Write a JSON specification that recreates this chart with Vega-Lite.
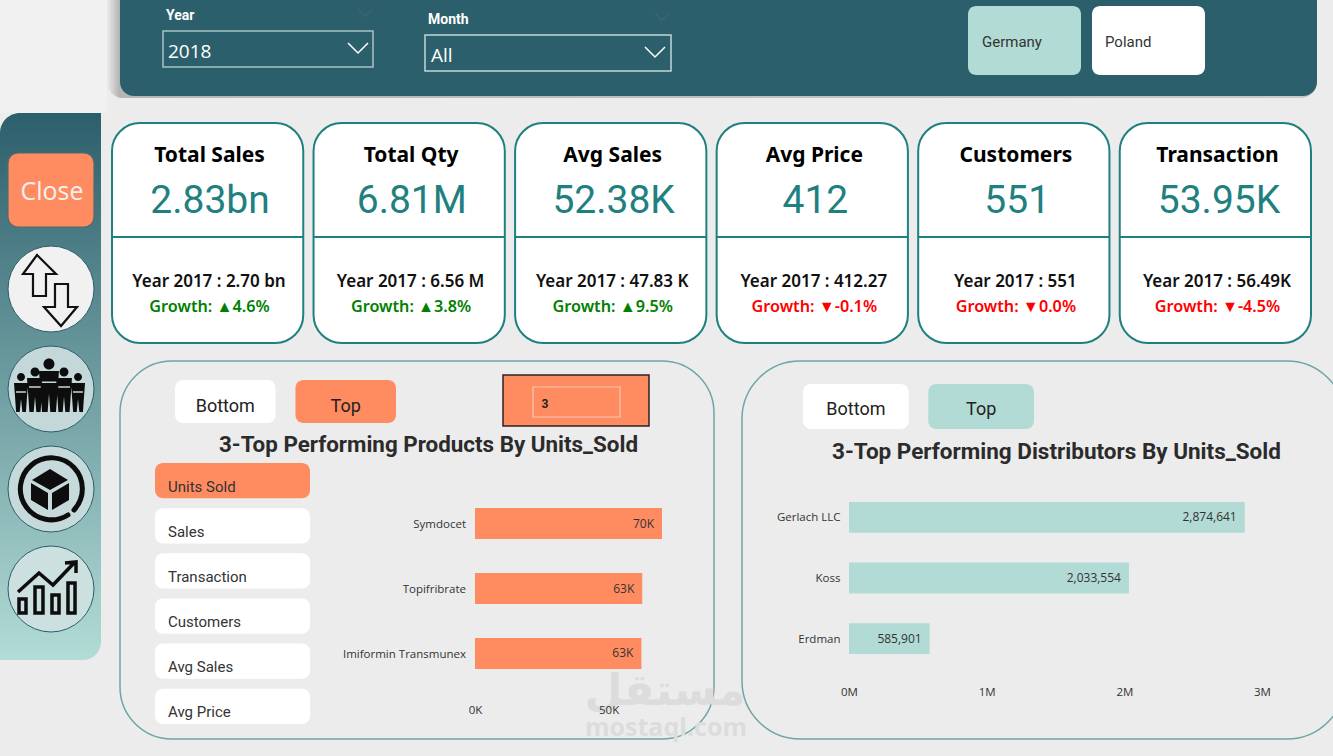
{
  "$schema": "https://vega.github.io/schema/vega-lite/v6.json",
  "width": 1333,
  "height": 756,
  "padding": 0,
  "autosize": {"type": "none"},
  "background": "#ececec",
  "config": {
    "view": {"stroke": null},
    "scale": {"pointPadding": 0},
    "axis": {"title": null, "grid": false, "domain": false, "ticks": false, "tickSize": 0, "labelColor": "#333333", "labelFontSize": 11.5, "labelFont": "Open Sans", "labelFlush": false},
    "text": {"baseline": "middle"}
  },
  "datasets": {
    "kpis": [
      {"title": "Total Sales", "value": "2.83bn", "prior": "Year 2017 : 2.70 bn", "growth": "Growth: ▲4.6%", "trend": "up"},
      {"title": "Total Qty", "value": "6.81M", "prior": "Year 2017 : 6.56 M", "growth": "Growth: ▲3.8%", "trend": "up"},
      {"title": "Avg Sales", "value": "52.38K", "prior": "Year 2017 : 47.83 K", "growth": "Growth: ▲9.5%", "trend": "up"},
      {"title": "Avg Price", "value": "412", "prior": "Year 2017 : 412.27", "growth": "Growth: ▼-0.1%", "trend": "down"},
      {"title": "Customers", "value": "551", "prior": "Year 2017 : 551", "growth": "Growth: ▼0.0%", "trend": "down"},
      {"title": "Transaction", "value": "53.95K", "prior": "Year 2017 : 56.49K", "growth": "Growth: ▼-4.5%", "trend": "down"}
    ],
    "slicers": [
      {"label": "Units Sold", "selected": "yes"},
      {"label": "Sales", "selected": "no"},
      {"label": "Transaction", "selected": "no"},
      {"label": "Customers", "selected": "no"},
      {"label": "Avg Sales", "selected": "no"},
      {"label": "Avg Price", "selected": "no"}
    ],
    "products": [
      {"name": "Symdocet", "units": 70000, "label": "70K"},
      {"name": "Topifribrate", "units": 62600, "label": "63K"},
      {"name": "Imiformin Transmunex", "units": 62300, "label": "63K"}
    ],
    "distributors": [
      {"name": "Gerlach LLC", "units": 2874641},
      {"name": "Koss", "units": 2033554},
      {"name": "Erdman", "units": 585901}
    ],
    "filters": [
      {"label": "Year", "choice": "2018"},
      {"label": "Month", "choice": "All"}
    ],
    "countries": [
      {"label": "Germany", "selected": "yes"},
      {"label": "Poland", "selected": "no"}
    ],
    "icons": [
      {"icon": "swap"},
      {"icon": "people"},
      {"icon": "box"},
      {"icon": "chart"}
    ],
    "toggleLeft": [
      {"label": "Bottom", "selected": "no"},
      {"label": "Top", "selected": "yes"}
    ],
    "toggleRight": [
      {"label": "Bottom", "selected": "no"},
      {"label": "Top", "selected": "yes"}
    ]
  },
  "resolve": {
    "scale": {"x": "independent", "y": "independent", "color": "independent"},
    "axis": {"x": "independent", "y": "independent"}
  },
  "layer": [
    {
      "data": {"values": [{"panel": "corner"}]},
      "mark": {"type": "rect", "fill": "#f1f1f1"},
      "encoding": {
        "x": {"field": "panel", "type": "nominal", "scale": {"type": "band", "range": [0, 107], "padding": 0}, "axis": null},
        "y": {"field": "panel", "type": "nominal", "scale": {"type": "band", "range": [0, 113], "padding": 0}, "axis": null}
      }
    },
    {
      "data": {"values": [{"panel": "shadow"}]},
      "mark": {"type": "rect", "cornerRadius": 16, "fill": {"gradient": "linear", "x1": 0, "y1": 0, "x2": 1, "y2": 0, "stops": [{"offset": 0, "color": "#ececec"}, {"offset": 0.01, "color": "#b5b5b5"}, {"offset": 1, "color": "#c8c8c8"}]}},
      "encoding": {
        "x": {"field": "panel", "type": "nominal", "scale": {"type": "band", "range": [107, 1317], "padding": 0}, "axis": null},
        "y": {"field": "panel", "type": "nominal", "scale": {"type": "band", "range": [-20, 98], "padding": 0}, "axis": null}
      }
    },
    {
      "data": {"values": [{"panel": "header"}]},
      "mark": {"type": "rect", "cornerRadius": 14, "fill": "#2c5f6c"},
      "encoding": {
        "x": {"field": "panel", "type": "nominal", "scale": {"type": "band", "range": [120, 1317], "padding": 0}, "axis": null},
        "y": {"field": "panel", "type": "nominal", "scale": {"type": "band", "range": [-20, 96], "padding": 0}, "axis": null}
      }
    },
    {
      "data": {"values": [{"box": "Year"}]},
      "mark": {"type": "rect", "filled": false, "stroke": "#a9c4c6", "strokeWidth": 1.5},
      "encoding": {
        "x": {"field": "box", "type": "nominal", "scale": {"type": "band", "range": [163, 373], "padding": 0}, "axis": null},
        "y": {"field": "box", "type": "nominal", "scale": {"type": "band", "range": [31, 67], "padding": 0}, "axis": null}
      }
    },
    {
      "data": {"values": [{"box": "Month"}]},
      "mark": {"type": "rect", "filled": false, "stroke": "#c3d7d8", "strokeWidth": 1.5},
      "encoding": {
        "x": {"field": "box", "type": "nominal", "scale": {"type": "band", "range": [425, 671], "padding": 0}, "axis": null},
        "y": {"field": "box", "type": "nominal", "scale": {"type": "band", "range": [35, 71], "padding": 0}, "axis": null}
      }
    },
    {
      "data": {"name": "filters"},
      "mark": {"type": "text", "align": "left", "font": "Roboto", "fontWeight": 700, "fontSize": 14, "color": "#ffffff"},
      "encoding": {
        "text": {"field": "label"},
        "x": {"field": "label", "type": "nominal", "sort": null, "scale": {"type": "point", "range": [166, 428]}, "axis": null},
        "y": {"field": "label", "type": "nominal", "sort": null, "scale": {"type": "point", "range": [16, 20]}, "axis": null}
      }
    },
    {
      "data": {"name": "filters"},
      "mark": {"type": "text", "align": "left", "font": "Open Sans", "fontSize": 19, "color": "#ffffff"},
      "encoding": {
        "text": {"field": "choice"},
        "x": {"field": "label", "type": "nominal", "sort": null, "scale": {"type": "point", "range": [168, 431]}, "axis": null},
        "y": {"field": "label", "type": "nominal", "sort": null, "scale": {"type": "point", "range": [52, 56]}, "axis": null}
      }
    },
    {
      "data": {"name": "filters"},
      "mark": {"type": "point", "shape": "M-1 -.5 L0 .5 L1 -.5", "size": 400, "filled": false, "color": "#ffffff", "strokeWidth": 1.5, "opacity": 1},
      "encoding": {
        "x": {"field": "label", "type": "nominal", "sort": null, "scale": {"type": "point", "range": [358, 655]}, "axis": null},
        "y": {"field": "label", "type": "nominal", "sort": null, "scale": {"type": "point", "range": [48, 52]}, "axis": null}
      }
    },
    {
      "data": {"name": "filters"},
      "mark": {"type": "point", "shape": "M-1 -.5 L0 .5 L1 -.5", "size": 196, "filled": false, "color": "#4b6a70", "strokeWidth": 1, "opacity": 1},
      "encoding": {
        "x": {"field": "label", "type": "nominal", "sort": null, "scale": {"type": "point", "range": [365, 662]}, "axis": null},
        "y": {"field": "label", "type": "nominal", "sort": null, "scale": {"type": "point", "range": [13, 17]}, "axis": null}
      }
    },
    {
      "data": {"name": "countries"},
      "mark": {"type": "rect", "cornerRadius": 8},
      "encoding": {
        "x": {"field": "label", "type": "nominal", "sort": null, "scale": {"type": "band", "range": [968, 1205], "paddingInner": 0.0887, "paddingOuter": 0}, "axis": null},
        "y": {"datum": "country", "type": "nominal", "scale": {"type": "band", "domain": ["country"], "range": [6, 75], "padding": 0}, "axis": null},
        "color": {"field": "selected", "type": "nominal", "scale": {"domain": ["yes", "no"], "range": ["#b2dbd5", "#ffffff"]}, "legend": null}
      }
    },
    {
      "data": {"name": "countries"},
      "mark": {"type": "text", "align": "left", "font": "Roboto", "fontSize": 15, "color": "#333333"},
      "encoding": {
        "text": {"field": "label"},
        "x": {"field": "label", "type": "nominal", "sort": null, "scale": {"type": "point", "range": [982, 1105]}, "axis": null},
        "y": {"datum": "country", "type": "nominal", "scale": {"type": "point", "domain": ["country"], "range": [42, 42]}, "axis": null}
      }
    },
    {
      "data": {"values": [{"panel": "sidebar"}]},
      "mark": {"type": "rect", "cornerRadiusTopLeft": 20, "cornerRadiusBottomRight": 18, "fill": {"gradient": "linear", "x1": 0, "y1": 0, "x2": 0, "y2": 1, "stops": [{"offset": 0, "color": "#2c5f6c"}, {"offset": 1, "color": "#b2dcd6"}]}},
      "encoding": {
        "x": {"field": "panel", "type": "nominal", "scale": {"type": "band", "range": [0, 101], "padding": 0}, "axis": null},
        "y": {"field": "panel", "type": "nominal", "scale": {"type": "band", "range": [113, 660], "padding": 0}, "axis": null}
      }
    },
    {
      "data": {"values": [{"label": "Close"}]},
      "encoding": {
        "x": {"field": "label", "type": "nominal", "scale": {"type": "band", "range": [8, 94], "padding": 0}, "axis": null},
        "y": {"field": "label", "type": "nominal", "scale": {"type": "band", "range": [153, 227], "padding": 0}, "axis": null}
      },
      "layer": [
        {"mark": {"type": "rect", "cornerRadius": 10, "fill": "#ff8c61", "stroke": "#55696c", "strokeWidth": 1.2}},
        {"mark": {"type": "text", "font": "Open Sans", "fontSize": 25, "dy": 2, "dx": 1, "color": "#f4f0f0"}, "encoding": {"text": {"field": "label"}}}
      ]
    },
    {
      "data": {"name": "icons"},
      "encoding": {
        "x": {"field": "icon", "type": "nominal", "sort": null, "scale": {"type": "point", "range": [51, 51]}, "axis": null},
        "y": {"field": "icon", "type": "nominal", "sort": null, "scale": {"type": "point", "domain": ["swap", "people", "box", "chart"], "range": [289, 589]}, "axis": null}
      },
      "layer": [
        {
          "mark": {"type": "point", "shape": "circle", "size": 7396, "filled": true, "opacity": 1, "stroke": "#2c5f6c", "strokeWidth": 1},
          "encoding": {"color": {"field": "icon", "type": "nominal", "scale": {"domain": ["swap", "people", "box", "chart"], "range": ["#f1f1f1", "#c4d8d9", "#c6dadb", "#cde0e0"]}, "legend": null}}
        },
        {
          "transform": [{"filter": "datum.icon == 'swap'"}],
          "mark": {"type": "point", "shape": "M-.368 -.895 L.132 -.395 L-.132 -.395 L-.132 .184 L-.474 .184 L-.474 -.395 L-.737 -.395Z M.105 -.132 L.447 -.132 L.447 .474 L.684 .474 L.263 .974 L-.184 .474 L.105 .474Z", "size": 5776, "filled": false, "color": "#111111", "strokeWidth": 2.2, "opacity": 1}
        },
        {
          "transform": [{"filter": "datum.icon == 'people'"}],
          "mark": {"type": "point", "shape": "M-.198 -.658 A.145 .145 0 1 1 .092 -.658 A.145 .145 0 1 1 -.198 -.658Z M-.316 -.474 L.21 -.474 L.131 .605 L-.018 .605 L-.053 .12 L-.088 .605 L-.237 .605Z M-.539 -.447 A.118 .118 0 1 1 -.303 -.447 A.118 .118 0 1 1 -.539 -.447Z M-.631 -.289 L-.211 -.289 L-.274 .605 L-.386 .605 L-.421 .203 L-.456 .605 L-.568 .605Z M.224 -.447 A.118 .118 0 1 1 .46 -.447 A.118 .118 0 1 1 .224 -.447Z M.132 -.289 L.552 -.289 L.489 .605 L.377 .605 L.342 .203 L.307 .605 L.195 .605Z M-.894 -.316 A.105 .105 0 1 1 -.684 -.316 A.105 .105 0 1 1 -.894 -.316Z M-.973 -.158 L-.605 -.158 L-.66 .605 L-.754 .605 L-.789 .262 L-.824 .605 L-.918 .605Z M.606 -.316 A.105 .105 0 1 1 .816 -.316 A.105 .105 0 1 1 .606 -.316Z M.527 -.158 L.895 -.158 L.84 .605 L.746 .605 L.711 .262 L.676 .605 L.582 .605Z", "size": 5776, "filled": true, "color": "#0d0d0d", "opacity": 1}
        },
        {
          "transform": [{"filter": "datum.icon == 'people'"}],
          "mark": {"type": "point", "shape": "M-.24 -.18 L.14 -.18 M-.58 -.05 L-.27 -.05 M.19 -.05 L.5 -.05 M-.92 .08 L-.66 .08 M.58 .08 L.84 .08", "size": 5776, "filled": false, "color": "#c4d8d9", "strokeWidth": 1.5, "opacity": 1}
        },
        {
          "transform": [{"filter": "datum.icon == 'box'"}],
          "mark": {"type": "point", "shape": "M-.026 -.526 L.447 -.237 L-.026 .026 L-.5 -.237Z M-.526 -.158 L-.079 .105 L-.079 .553 L-.526 .289Z M.474 -.158 L.026 .105 L.026 .553 L.474 .289Z", "size": 5776, "filled": true, "color": "#0d0d0d", "opacity": 1}
        },
        {
          "transform": [{"filter": "datum.icon == 'box'"}],
          "mark": {"type": "point", "shape": "M.605 .553 A.816 .816 0 1 0 .447 .684", "size": 5776, "filled": false, "color": "#0d0d0d", "strokeWidth": 5, "strokeCap": "round", "opacity": 1}
        },
        {
          "transform": [{"filter": "datum.icon == 'chart'"}],
          "mark": {"type": "point", "shape": "M-.842 .263 H-.658 V.632 H-.842Z M-.421 -.053 H-.211 V.632 H-.421Z M.026 .158 H.211 V.632 H.026Z M.447 -.158 H.632 V.632 H.447Z M-.868 .079 L-.316 -.421 L.053 -.105 L.632 -.711 M.368 -.684 L.658 -.711 L.658 -.421", "size": 5776, "filled": false, "color": "#0d0d0d", "strokeWidth": 3.5, "opacity": 1}
        }
      ]
    },
    {
      "data": {"name": "kpis"},
      "mark": {"type": "rect", "cornerRadius": 28, "fill": "#ffffff", "stroke": "#1f8080", "strokeWidth": 2},
      "encoding": {
        "x": {"field": "title", "type": "nominal", "sort": null, "scale": {"type": "band", "range": [112, 1311], "paddingInner": 0.051, "paddingOuter": 0}, "axis": null},
        "y": {"datum": "card", "type": "nominal", "scale": {"type": "band", "domain": ["card"], "range": [123, 343], "padding": 0}, "axis": null}
      }
    },
    {
      "data": {"name": "kpis"},
      "mark": {"type": "rect", "fill": "#1f8080"},
      "encoding": {
        "x": {"field": "title", "type": "nominal", "sort": null, "scale": {"type": "band", "range": [112, 1311], "paddingInner": 0.051, "paddingOuter": 0}, "axis": null},
        "y": {"datum": "divider", "type": "nominal", "scale": {"type": "band", "domain": ["divider"], "range": [236, 238], "padding": 0}, "axis": null}
      }
    },
    {
      "data": {"name": "kpis"},
      "mark": {"type": "text", "font": "Noto Sans", "fontWeight": 700, "fontSize": 21, "color": "#000000"},
      "encoding": {
        "text": {"field": "title"},
        "x": {"field": "title", "type": "nominal", "sort": null, "scale": {"type": "point", "range": [209.5, 1217.5]}, "axis": null},
        "y": {"datum": "title", "type": "nominal", "scale": {"type": "point", "domain": ["title"], "range": [155.5, 155.5]}, "axis": null}
      }
    },
    {
      "data": {"name": "kpis"},
      "mark": {"type": "text", "font": "Roboto", "fontSize": 39, "color": "#1f8080"},
      "encoding": {
        "text": {"field": "value"},
        "x": {"field": "title", "type": "nominal", "sort": null, "scale": {"type": "point", "range": [210, 1219]}, "axis": null},
        "y": {"datum": "value", "type": "nominal", "scale": {"type": "point", "domain": ["value"], "range": [201, 201]}, "axis": null}
      }
    },
    {
      "data": {"name": "kpis"},
      "mark": {"type": "text", "font": "Noto Sans", "fontWeight": 600, "fontSize": 17, "color": "#111111"},
      "encoding": {
        "text": {"field": "prior"},
        "x": {"field": "title", "type": "nominal", "sort": null, "scale": {"type": "point", "range": [209, 1217]}, "axis": null},
        "y": {"datum": "prior", "type": "nominal", "scale": {"type": "point", "domain": ["prior"], "range": [281.5, 281.5]}, "axis": null}
      }
    },
    {
      "data": {"name": "kpis"},
      "mark": {"type": "text", "font": "Noto Sans", "fontWeight": 600, "fontSize": 16.2},
      "encoding": {
        "text": {"field": "growth"},
        "x": {"field": "title", "type": "nominal", "sort": null, "scale": {"type": "point", "range": [209.5, 1217.5]}, "axis": null},
        "y": {"datum": "growth", "type": "nominal", "scale": {"type": "point", "domain": ["growth"], "range": [306.5, 306.5]}, "axis": null},
        "color": {"field": "trend", "type": "nominal", "scale": {"domain": ["up", "down"], "range": ["#008000", "#ff0000"]}, "legend": null}
      }
    },
    {
      "data": {"values": [{"panel": "products"}]},
      "mark": {"type": "rect", "cornerRadius": 52, "filled": false, "stroke": "#6fa5a5", "strokeWidth": 1.5},
      "encoding": {
        "x": {"field": "panel", "type": "nominal", "scale": {"type": "band", "range": [120, 714], "padding": 0}, "axis": null},
        "y": {"field": "panel", "type": "nominal", "scale": {"type": "band", "range": [361, 739], "padding": 0}, "axis": null}
      }
    },
    {
      "data": {"values": [{"panel": "distributors"}]},
      "mark": {"type": "rect", "cornerRadius": 58, "filled": false, "stroke": "#6fa5a5", "strokeWidth": 1.5},
      "encoding": {
        "x": {"field": "panel", "type": "nominal", "scale": {"type": "band", "range": [742, 1345], "padding": 0}, "axis": null},
        "y": {"field": "panel", "type": "nominal", "scale": {"type": "band", "range": [361, 739], "padding": 0}, "axis": null}
      }
    },
    {
      "data": {"values": [{"mark": "مستقل"}]},
      "mark": {"type": "text", "font": "DejaVu Sans", "fontWeight": 700, "fontSize": 44, "color": "#dcdcdc"},
      "encoding": {
        "text": {"field": "mark"},
        "x": {"field": "mark", "type": "nominal", "scale": {"type": "point", "range": [665, 665]}, "axis": null},
        "y": {"field": "mark", "type": "nominal", "scale": {"type": "point", "range": [692, 692]}, "axis": null}
      }
    },
    {
      "data": {"values": [{"mark": "mostaql.com"}]},
      "mark": {"type": "text", "font": "Open Sans", "fontWeight": 700, "fontSize": 25, "color": "#dcdcdc"},
      "encoding": {
        "text": {"field": "mark"},
        "x": {"field": "mark", "type": "nominal", "scale": {"type": "point", "range": [666, 666]}, "axis": null},
        "y": {"field": "mark", "type": "nominal", "scale": {"type": "point", "range": [728, 728]}, "axis": null}
      }
    },
    {
      "data": {"name": "toggleLeft"},
      "encoding": {
        "x": {"field": "label", "type": "nominal", "sort": null, "scale": {"type": "band", "range": [175, 396], "paddingInner": 0.165, "paddingOuter": 0}, "axis": null},
        "y": {"datum": "toggle", "type": "nominal", "scale": {"type": "band", "domain": ["toggle"], "range": [380, 423], "padding": 0}, "axis": null}
      },
      "layer": [
        {
          "mark": {"type": "rect", "cornerRadius": 8},
          "encoding": {"color": {"field": "selected", "type": "nominal", "scale": {"domain": ["yes", "no"], "range": ["#ff8c61", "#ffffff"]}, "legend": null}}
        },
        {
          "mark": {"type": "text", "font": "Roboto", "fontSize": 18, "dy": 5, "color": "#222222"},
          "encoding": {"text": {"field": "label"}}
        }
      ]
    },
    {
      "data": {"values": [{"box": "count"}]},
      "mark": {"type": "rect", "fill": "#ff8c61", "stroke": "#2a2320", "strokeWidth": 1.5},
      "encoding": {
        "x": {"field": "box", "type": "nominal", "scale": {"type": "band", "range": [503, 649], "padding": 0}, "axis": null},
        "y": {"field": "box", "type": "nominal", "scale": {"type": "band", "range": [375, 426], "padding": 0}, "axis": null}
      }
    },
    {
      "data": {"values": [{"box": "count"}]},
      "mark": {"type": "rect", "filled": false, "stroke": "#f6c8b4", "strokeWidth": 1.2},
      "encoding": {
        "x": {"field": "box", "type": "nominal", "scale": {"type": "band", "range": [533, 620], "padding": 0}, "axis": null},
        "y": {"field": "box", "type": "nominal", "scale": {"type": "band", "range": [387, 417], "padding": 0}, "axis": null}
      }
    },
    {
      "data": {"values": [{"label": "3"}]},
      "mark": {"type": "text", "font": "Roboto", "fontWeight": 700, "fontSize": 12, "color": "#222222"},
      "encoding": {
        "text": {"field": "label"},
        "x": {"field": "label", "type": "nominal", "scale": {"type": "point", "range": [545, 545]}, "axis": null},
        "y": {"field": "label", "type": "nominal", "scale": {"type": "point", "range": [404, 404]}, "axis": null}
      }
    },
    {
      "data": {"values": [{"label": "3-Top Performing Products By Units_Sold"}]},
      "mark": {"type": "text", "font": "Roboto", "fontWeight": 700, "fontSize": 22.4, "color": "#2b2b2b"},
      "encoding": {
        "text": {"field": "label"},
        "x": {"field": "label", "type": "nominal", "scale": {"type": "point", "range": [428.5, 428.5]}, "axis": null},
        "y": {"field": "label", "type": "nominal", "scale": {"type": "point", "range": [445, 445]}, "axis": null}
      }
    },
    {
      "data": {"name": "slicers"},
      "mark": {"type": "rect", "cornerRadius": 8},
      "encoding": {
        "x": {"datum": "slicer", "type": "nominal", "scale": {"type": "band", "domain": ["slicer"], "range": [155, 310], "padding": 0}, "axis": null},
        "y": {"field": "label", "type": "nominal", "sort": null, "scale": {"type": "band", "range": [463, 724], "paddingInner": 0.22, "paddingOuter": 0}, "axis": null},
        "color": {"field": "selected", "type": "nominal", "scale": {"domain": ["yes", "no"], "range": ["#ff8c61", "#ffffff"]}, "legend": null}
      }
    },
    {
      "data": {"name": "slicers"},
      "mark": {"type": "text", "align": "left", "font": "Roboto", "fontSize": 15, "color": "#333333"},
      "encoding": {
        "text": {"field": "label"},
        "x": {"datum": "slicer", "type": "nominal", "scale": {"type": "point", "domain": ["slicer"], "range": [168, 168]}, "axis": null},
        "y": {"field": "label", "type": "nominal", "sort": null, "scale": {"type": "point", "range": [487, 712]}, "axis": null}
      }
    },
    {
      "data": {"name": "products"},
      "encoding": {
        "x": {"field": "units", "type": "quantitative", "scale": {"domain": [0, 70000], "range": [475, 662]}, "axis": {"orient": "bottom", "offset": -52, "values": [0, 50000], "labelExpr": "datum.value / 1000 + 'K'", "labelPadding": 0, "zindex": 1}},
        "y": {"field": "name", "type": "nominal", "sort": null, "scale": {"type": "band", "range": [508, 669], "paddingInner": 0.523, "paddingOuter": 0}, "axis": {"orient": "left", "offset": -465.5, "labelPadding": 0, "labelLimit": 200, "labelOffset": 1.5, "zindex": 1}}
      },
      "layer": [
        {"mark": {"type": "bar", "color": "#ff8c61"}},
        {"mark": {"type": "text", "align": "right", "dx": -8, "font": "Open Sans", "fontSize": 12, "color": "#333333"}, "encoding": {"text": {"field": "label"}}}
      ]
    },
    {
      "data": {"name": "toggleRight"},
      "encoding": {
        "x": {"field": "label", "type": "nominal", "sort": null, "scale": {"type": "band", "range": [803, 1034], "paddingInner": 0.156, "paddingOuter": 0}, "axis": null},
        "y": {"datum": "toggle", "type": "nominal", "scale": {"type": "band", "domain": ["toggle"], "range": [384, 429], "padding": 0}, "axis": null}
      },
      "layer": [
        {
          "mark": {"type": "rect", "cornerRadius": 8},
          "encoding": {"color": {"field": "selected", "type": "nominal", "scale": {"domain": ["yes", "no"], "range": ["#b2dbd5", "#ffffff"]}, "legend": null}}
        },
        {
          "mark": {"type": "text", "font": "Roboto", "fontSize": 18, "dy": 3, "color": "#222222"},
          "encoding": {"text": {"field": "label"}}
        }
      ]
    },
    {
      "data": {"values": [{"label": "3-Top Performing Distributors By Units_Sold"}]},
      "mark": {"type": "text", "font": "Roboto", "fontWeight": 700, "fontSize": 22.5, "color": "#2b2b2b"},
      "encoding": {
        "text": {"field": "label"},
        "x": {"field": "label", "type": "nominal", "scale": {"type": "point", "range": [1056.5, 1056.5]}, "axis": null},
        "y": {"field": "label", "type": "nominal", "scale": {"type": "point", "range": [452, 452]}, "axis": null}
      }
    },
    {
      "data": {"name": "distributors"},
      "encoding": {
        "x": {"field": "units", "type": "quantitative", "scale": {"domain": [0, 3000000], "range": [849, 1262]}, "axis": {"orient": "bottom", "offset": -70, "values": [0, 1000000, 2000000, 3000000], "labelExpr": "datum.value / 1000000 + 'M'", "labelPadding": 0, "zindex": 1}},
        "y": {"field": "name", "type": "nominal", "sort": null, "scale": {"type": "band", "range": [502, 654], "paddingInner": 0.492, "paddingOuter": 0}, "axis": {"orient": "left", "offset": -840, "labelPadding": 0, "labelOffset": 1, "zindex": 1}}
      },
      "layer": [
        {"mark": {"type": "bar", "color": "#b2dbd5"}},
        {"mark": {"type": "text", "align": "right", "dx": -8, "font": "Open Sans", "fontSize": 12, "color": "#333333"}, "encoding": {"text": {"field": "units", "format": ","}}}
      ]
    }
  ]
}
